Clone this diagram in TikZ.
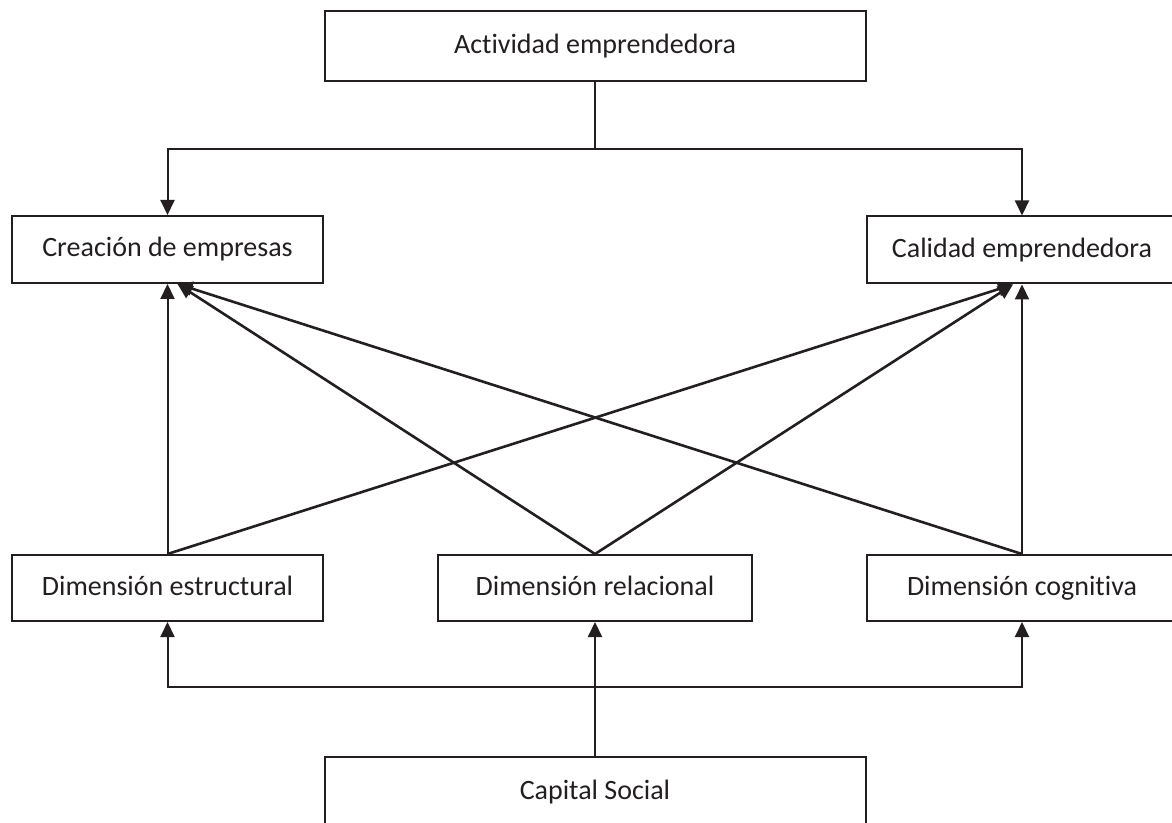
\documentclass[tikz,border=0pt]{standalone}
\usepackage{fontspec}
\setmainfont{Carlito}[Ligatures={NoCommon}]
\usetikzlibrary{arrows.meta}
\definecolor{ink}{RGB}{35,31,32}
\begin{document}
\begin{tikzpicture}[x=0.5pt, y=-0.5pt,
  box/.style={draw=ink, line width=1pt, fill=white, text=ink,
    font=\fontsize{14pt}{16pt}\selectfont, inner sep=0pt, anchor=center,
    text height=10.5pt, text depth=3pt},
  widebox/.style={box, minimum width=270.5pt, minimum height=35pt},
  sidebox/.style={box, minimum width=155.5pt, minimum height=33.5pt},
  dimbox/.style={box, minimum width=155.5pt, minimum height=33pt},
  link/.style={draw=ink, line width=1pt},
  arr/.style={link, -{Triangle[length=7.5pt, width=7pt]}},
  cross/.style={arr, line width=1.3pt}
]
\useasboundingbox (0,0) rectangle (1172,823);
\clip (0,0) rectangle (1172,823);

% boxes
\node[widebox] (top)  at (595,46)    {Actividad emprendedora};
\node[sidebox] (crea) at (167.5,249.5) {Creación de empresas};
\node[sidebox] (cal)  at (1022,250)  {Calidad emprendedora};
\node[dimbox]  (est)  at (167.5,588) {Dimensión estructural};
\node[dimbox, minimum width=157pt] (rel) at (595,588) {Dimensión relacional};
\node[dimbox]  (cog)  at (1022,588)  {Dimensión cognitiva};
\node[widebox] (cap)  at (595,792)   {Capital Social};

% top split towards the two outcomes
\coordinate (split) at (595,149);
\draw[link] (top.south) -- (split);
\draw[arr] (split) -| (crea.north);
\draw[arr] (split) -| (cal.north);

% capital social feeding the three dimensions
\coordinate (merge) at (595,687);
\draw[arr] (cap.north) -- (rel.south);
\draw[arr] (merge) -| (est.south);
\draw[arr] (merge) -| (cog.south);

% dimensions towards the outcomes
\draw[arr] (est.north) -- (crea.south);
\draw[cross] (est.north) -- ([xshift=-4.5pt]cal.south);
\draw[cross] (rel.north) -- ([xshift=5pt]crea.south);
\draw[cross] (rel.north) -- ([xshift=-4.5pt]cal.south);
\draw[cross] (cog.north) -- ([xshift=5pt]crea.south);
\draw[arr] (cog.north) -- (cal.south);
\end{tikzpicture}
\end{document}
